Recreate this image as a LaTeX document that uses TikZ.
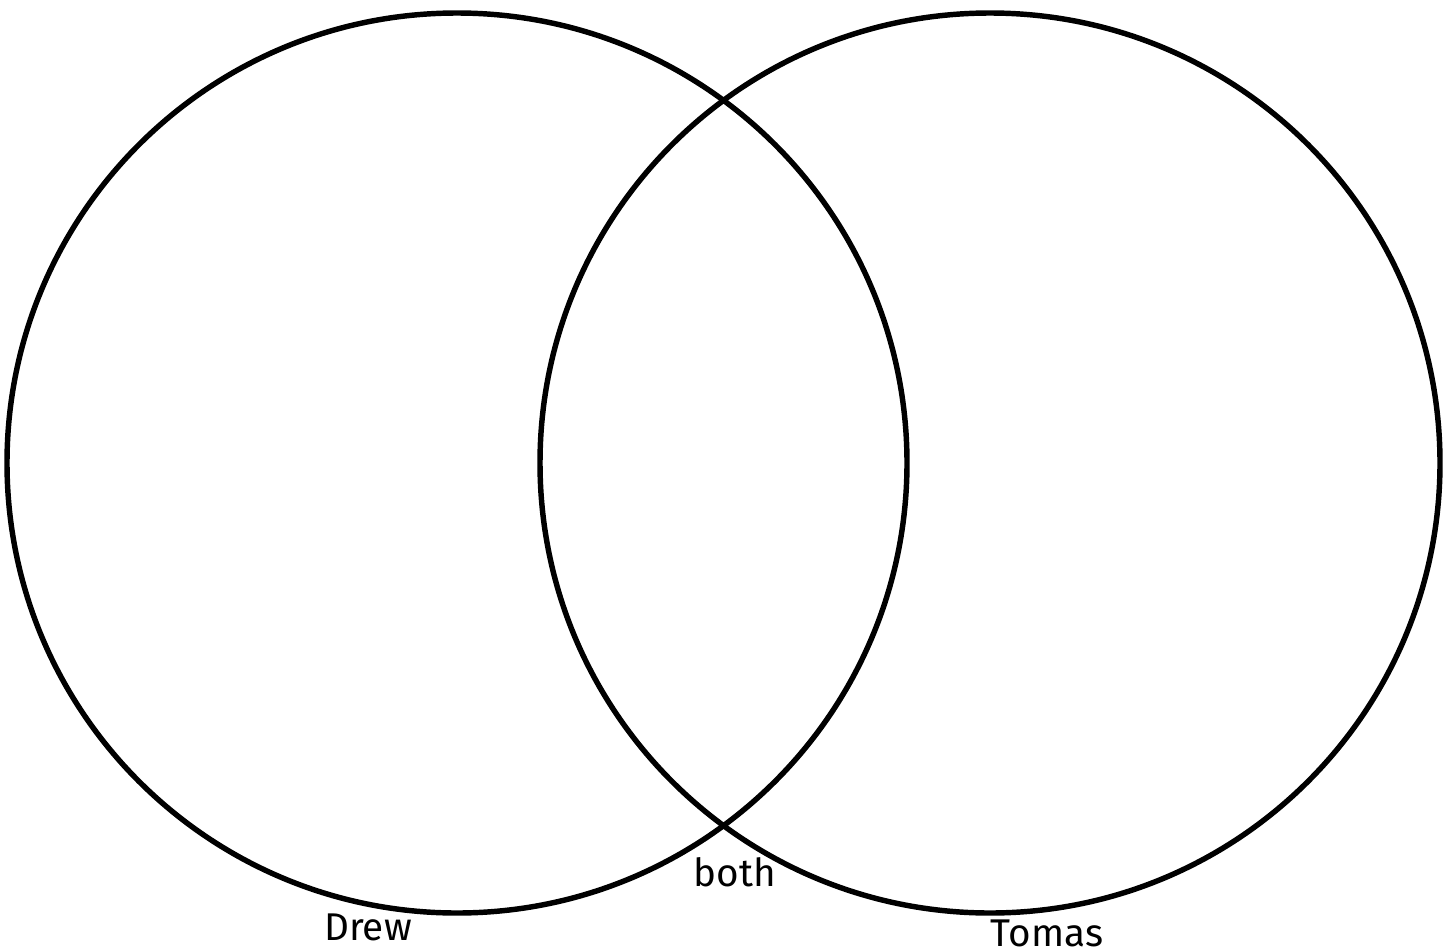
\documentclass[tikz,border=0pt]{standalone}
\usepackage{fontspec}
\setmainfont{Fira Sans}
\tikzset{
  ring/.style={circle, draw, line width=3.1pt, minimum size=18cm, inner sep=0pt},
  tag/.style={font=\fontsize{22}{26}\selectfont, anchor=base, inner sep=0pt}
}
\begin{document}
\begin{tikzpicture}[scale=1.0]
\useasboundingbox (0,0) rectangle (29.12,-19.02);
\node[ring] (drew) at (9.14,-9.26) {};
\node[ring] (tomas) at (19.8,-9.26) {};
\node[tag] (drewlabel) at (7.36,-18.8) {Drew};
\node[tag] (bothlabel) at (14.7,-17.72) {both};
\node[tag] (tomaslabel) at (20.94,-18.92) {Tomas};
\end{tikzpicture}
\end{document}
